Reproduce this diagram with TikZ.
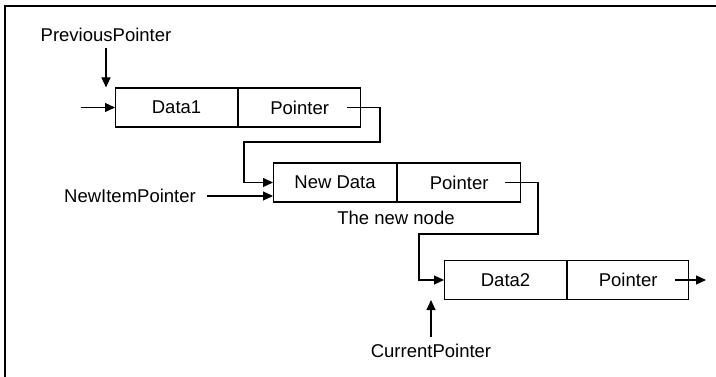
\documentclass[tikz,border=0pt]{standalone}
\usepackage{fontspec}
\setmainfont{Liberation Sans}
\usetikzlibrary{arrows.meta}
\begin{document}
\begin{tikzpicture}[x=1pt,y=-1pt,
  line width=1.1pt,
  every node/.style={font=\fontsize{18.5}{22}\selectfont},
  cell/.style={draw,rectangle,minimum width=122pt,minimum height=39pt,inner sep=0pt,anchor=west},
  label/.style={inner sep=0pt},
  link/.style={-{Triangle[length=10pt,width=9pt]}}]
  \useasboundingbox (0,0) rectangle (716,377);
  % frame (top and left edges)
  \draw (5,377) -- (5,6) -- (716,6);

  % list records
  \node[cell] (d1) at (115,107.5) {Data1};
  \node[cell] (p1) at (d1.east) {Pointer};
  \node[cell,minimum width=123pt] (nd) at (273,182.5) {New Data};
  \node[cell,minimum width=123pt] (np) at (nd.east) {Pointer};
  \node[cell] (d2) at (444,280) {Data2};
  \node[cell,minimum width=121pt] (p2) at (d2.east) {Pointer};

  % labels
  \node[label] (prev) at (106,35) {PreviousPointer};
  \node[label] (nip) at (130,196) {NewItemPointer};
  \node[label] (newnode) at (396,218) {The new node};
  \node[label] (cur) at (431,351) {CurrentPointer};

  % free ends
  \coordinate (headin) at (81,107.5);
  \coordinate (p1out) at (347,107.5);
  \coordinate (npout) at (505,182.5);
  \coordinate (p2out) at (675,280);
  \coordinate (tailend) at (706,280);

  % connectors
  \draw[link] (headin) -- (d1.west);
  \draw[link] ([yshift=-6pt]prev.south) -- (prev.south |- d1.north);
  \draw[link] (p1out) -- (380,107.5) -- (380,142) -- (244,142) -- (244,182.5) -- (nd.west);
  \draw[link] ([xshift=11pt]nip.east) -- (nip.east -| nd.west);
  \draw[link] (npout) -- (538,182.5) -- (538,234) -- (419,234) -- (419,280) -- (d2.west);
  \draw[link] (p2out) -- (tailend);
  \draw[link] ([yshift=7pt]cur.north) -- (cur.north |- d2.south);
\end{tikzpicture}
\end{document}
